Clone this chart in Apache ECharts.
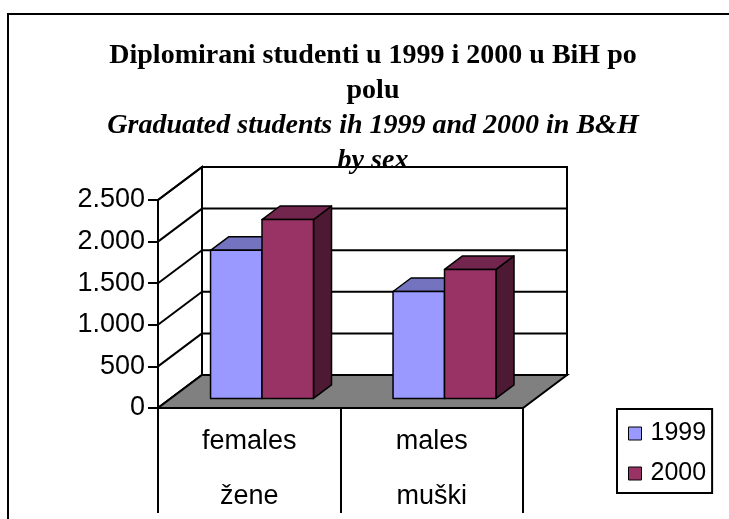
<!DOCTYPE html>
<html><head><meta charset="utf-8">
<script src="https://cdn.jsdelivr.net/npm/echarts@6/dist/echarts.min.js"></script>
<style>html,body{margin:0;padding:0;background:#fff}#c{width:729px;height:519px}</style>
</head><body><div id="c"></div>
<script>
// ---- data ----
const categoriesEn = ['females', 'males'];
const categoriesBs = ['žene', 'muški'];
const seriesNames = ['1999', '2000'];
const values1999 = [1780, 1285];
const values2000 = [2150, 1550];
const yMin = 0, yMax = 2500, yStep = 500;

// ---- style constants ----
const DX = 44, DY = -33;          // depth of the 3D box
const FACE = 0.29, DEPTH = 0.41;  // bar front-face depth and bar thickness (fractions of box depth)
const BARFRAC = 0.282;            // bar width as fraction of category band
const SANS = "'Liberation Sans', Arial, sans-serif";
const SERIF = "'Liberation Serif', 'Times New Roman', serif";
const shades = [
  {front: '#9999FF', top: '#7373BF', side: '#4D4D80'},
  {front: '#993366', top: '#73264D', side: '#4D1933'}
];

function fmt(v) {
  if (v >= 1000) return Math.floor(v / 1000) + '.' + String(v % 1000).padStart(3, '0');
  return String(v);
}

function renderFrame(params, api) {
  const cs = params.coordSys;
  const x0 = cs.x, x1 = cs.x + cs.width;
  const yb = api.coord([0, yMin])[1], yt = api.coord([0, yMax])[1];
  const ls = {stroke: '#000', lineWidth: 2};
  const children = [
    {type: 'polygon', shape: {points: [[x0 + DX, yt + DY], [x1 + DX, yt + DY], [x1 + DX, yb + DY], [x0 + DX, yb + DY]]}, style: Object.assign({fill: '#fff'}, ls)},
    {type: 'polygon', shape: {points: [[x0, yt], [x0 + DX, yt + DY], [x0 + DX, yb + DY], [x0, yb]]}, style: Object.assign({fill: '#fff'}, ls)}
  ];
  for (let v = yMin; v <= yMax; v += yStep) {
    const y = api.coord([0, v])[1];
    children.push({type: 'line', shape: {x1: x0 + DX, y1: y + DY, x2: x1 + DX, y2: y + DY}, style: ls});
    children.push({type: 'line', shape: {x1: x0, y1: y, x2: x0 + DX, y2: y + DY}, style: ls});
  }
  children.push({type: 'polygon', shape: {points: [[x0, yb], [x1, yb], [x1 + DX, yb + DY], [x0 + DX, yb + DY]]}, style: Object.assign({fill: '#808080'}, ls)});
  return {type: 'group', children};
}

function makeBar(idx) {
  const sh = shades[idx];
  return function (params, api) {
    const cat = api.value(0), v = api.value(1);
    const top = api.coord([cat, v]);
    const bot = api.coord([cat, 0]);
    const band = api.size([1, 0])[0];
    const w = band * BARFRAC;
    const fx = DX * FACE, fy = DY * FACE, dx = DX * DEPTH, dy = DY * DEPTH;
    const l = top[0] - w + idx * w + fx, r = l + w;
    const t = top[1] + fy, b = bot[1] + fy;
    const st = {stroke: '#000', lineWidth: 1.5, lineJoin: 'round'};
    return {type: 'group', children: [
      {type: 'polygon', shape: {points: [[r, t], [r + dx, t + dy], [r + dx, b + dy], [r, b]]}, style: Object.assign({fill: sh.side}, st)},
      {type: 'polygon', shape: {points: [[l, t], [r, t], [r + dx, t + dy], [l + dx, t + dy]]}, style: Object.assign({fill: sh.top}, st)},
      {type: 'rect', shape: {x: l, y: t, width: w, height: b - t}, style: Object.assign({fill: sh.front}, st)}
    ]};
  };
}

const chart = echarts.init(document.getElementById('c'));
chart.setOption({
  animation: false,
  backgroundColor: '#fff',
  title: {
    text: 'Diplomirani studenti u 1999 i 2000 u BiH po\npolu',
    subtext: 'Graduated students ih 1999 and 2000 in B&H\nby sex',
    left: 373, top: 38, textAlign: 'center', padding: 0, itemGap: 0,
    textStyle: {fontFamily: SERIF, fontWeight: 'bold', fontSize: 28, lineHeight: 35, color: '#000'},
    subtextStyle: {fontFamily: SERIF, fontWeight: 'bold', fontStyle: 'italic', fontSize: 28, lineHeight: 35, color: '#000'}
  },
  legend: {
    data: seriesNames, orient: 'vertical', left: 617, top: 409,
    icon: 'rect', itemWidth: 13, itemHeight: 13, itemGap: 15,
    padding: [12, 6, 7, 11], borderColor: '#000', borderWidth: 2,
    itemStyle: {borderColor: '#000', borderWidth: 1},
    textStyle: {fontFamily: SANS, fontSize: 25, color: '#000', padding: [0, 0, 0, 4]}
  },
  graphic: [{type: 'rect', z: 100, shape: {x: 8, y: 14, width: 800, height: 600}, style: {fill: 'none', stroke: '#000', lineWidth: 2}}],
  grid: {left: 158, top: 200, width: 365, height: 208, outerBoundsMode: 'none', containLabel: false},
  xAxis: {
    type: 'category',
    data: categoriesEn.map((c, i) => c + '\n' + categoriesBs[i]),
    axisLine: {show: true, lineStyle: {color: '#000', width: 2}},
    axisTick: {show: true, length: 105, lineStyle: {color: '#000', width: 2}},
    axisLabel: {fontFamily: SANS, fontSize: 27, lineHeight: 55, color: '#000', margin: 6}
  },
  yAxis: {
    type: 'value', min: yMin, max: yMax, interval: yStep,
    axisLine: {show: true, lineStyle: {color: '#000', width: 2}},
    axisTick: {show: true, length: 10, lineStyle: {color: '#000', width: 2}},
    axisLabel: {fontFamily: SANS, fontSize: 27, color: '#000', margin: 13, formatter: fmt},
    splitLine: {show: false}
  },
  series: [
    {type: 'custom', name: 'frame', z: 1, silent: true, renderItem: renderFrame, data: [[0, 0]]},
    {type: 'custom', name: seriesNames[0], z: 2, renderItem: makeBar(0), itemStyle: {color: shades[0].front},
     data: values1999.map((v, i) => [i, v])},
    {type: 'custom', name: seriesNames[1], z: 3, renderItem: makeBar(1), itemStyle: {color: shades[1].front},
     data: values2000.map((v, i) => [i, v])}
  ]
});
</script></body></html>
